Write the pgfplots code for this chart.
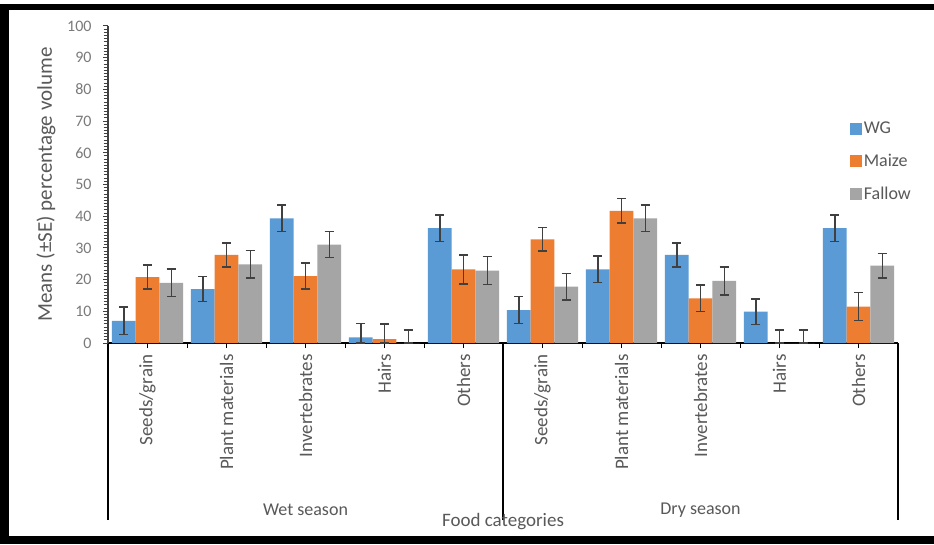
\documentclass[border=0pt]{standalone}
\usepackage{fontspec}
\setmainfont{Carlito}
\usepackage{pgfplots}
\usepackage{pgfplotstable}
\pgfplotsset{compat=1.18}
\definecolor{cwg}{HTML}{5B9BD5}
\definecolor{cmz}{HTML}{ED7D31}
\definecolor{cfa}{HTML}{A5A5A5}
\definecolor{errc}{HTML}{404040}
\definecolor{tc}{HTML}{595959}
\definecolor{tk}{HTML}{7A7A7A}

\pgfplotstableread{
x    y     ep   em
0.5  7.0   4.3  4.3
1.5  17.0  4.0  4.0
2.5  39.3  4.2  4.2
3.5  1.8   4.3  1.8
4.5  36.2  4.2  4.2
5.5  10.4  4.2  4.2
6.5  23.2  4.2  4.2
7.5  27.8  3.8  3.8
8.5  9.9   4.0  4.0
9.5  36.2  4.2  4.2
}\wgdata
\pgfplotstableread{
x    y     ep   em
0.5  20.8  3.8  3.8
1.5  27.8  3.8  3.8
2.5  21.1  4.1  4.1
3.5  1.2   4.8  1.2
4.5  23.2  4.6  4.6
5.5  32.7  3.7  3.7
6.5  41.7  3.9  3.9
7.5  14.1  4.2  4.2
8.5  0     4.1  0
9.5  11.5  4.4  4.4
}\mzdata
\pgfplotstableread{
x    y     ep   em
0.5  19.0  4.3  4.3
1.5  24.8  4.3  4.3
2.5  31.0  4.1  4.1
3.5  0     4.1  0
4.5  22.8  4.4  4.4
5.5  17.8  4.2  4.2
6.5  39.3  4.2  4.2
7.5  19.6  4.4  4.4
8.5  0     4.1  0
9.5  24.4  3.9  3.9
}\fadata

\begin{document}
\begin{tikzpicture}
\path[use as bounding box] (0pt,0pt) rectangle (934pt,544pt);
\fill[white] (0pt,0pt) rectangle (934pt,544pt);
\fill[black] (0pt,534pt) rectangle (934pt,540pt);
\fill[black] (0pt,0pt) rectangle (9pt,540pt);
\fill[black] (0pt,0pt) rectangle (934pt,8pt);
\begin{axis}[
  at={(108pt,201pt)}, anchor=south west,
  scale only axis, width=790pt, height=317pt,
  xmin=0, xmax=10, ymin=0, ymax=100,
  clip=false,
  axis x line*=bottom, axis y line*=left,
  x axis line style={black, line width=1.3pt},
  y axis line style={errc, line width=1.3pt},
  ybar, bar width=0.3,
  ytick={0,10,...,100},
  xtick={0.5,1.5,...,9.5},
  xticklabels={Seeds/grain,Plant materials,Invertebrates,Hairs,Others,Seeds/grain,Plant materials,Invertebrates,Hairs,Others},
  minor xtick={1,2,3,4,6,7,8,9},
  tick align=outside,
  xtick pos=bottom, ytick pos=left,
  major tick length=5pt, minor tick length=4.5pt,
  tick style={draw=black, line width=1pt},
  ytick style={draw=errc, line width=1pt},
  extra x ticks={0,5,10},
  extra x tick labels={},
  extra x tick style={major tick length=177pt, tick style={draw=black, line width=1.3pt}},
  extra y ticks={0,1,...,100},
  extra y tick labels={},
  extra y tick style={major tick length=4.5pt, tick align=outside, tick style={draw=errc, line width=0.9pt}},
  /pgf/number format/assume math mode=true,
  yticklabel style={font=\fontsize{16}{18}\selectfont, text=tk, xshift=-8pt},
  xticklabel style={font=\fontsize{19}{21}\selectfont, text=tc, rotate=90, anchor=east, xshift=-3pt},
  ylabel={Means (±SE) percentage volume},
  ylabel style={at={([xshift=-62pt]axis description cs:0,0.5)}, anchor=center, font=\fontsize{21}{23}\selectfont, text=tc},
  xlabel={Food categories},
  xlabel style={at={([yshift=-179pt]axis description cs:0.5,0)}, anchor=center, font=\fontsize{19}{21}\selectfont, text=tc},
  legend style={at={(0.935,0.71)}, anchor=north west, draw=none, fill=none,
    font=\fontsize{18}{20}\selectfont, text=tc, row sep=15pt, nodes={inner sep=2pt}},
  legend cell align=left,
  legend image code/.code={\fill[#1] (0pt,-6pt) rectangle (12pt,6pt);},
  error bars/y dir=both, error bars/y explicit,
  error bars/error bar style={draw=errc, line width=1.4pt},
  error bars/error mark options={rotate=90, draw=errc, line width=1.4pt, mark size=4.5pt},
]
\addplot[fill=cwg, draw=none, bar shift=-0.3] table[x=x, y=y, y error plus=ep, y error minus=em] {\wgdata};
\addplot[fill=cmz, draw=none, bar shift=0] table[x=x, y=y, y error plus=ep, y error minus=em] {\mzdata};
\addplot[fill=cfa, draw=none, bar shift=0.3] table[x=x, y=y, y error plus=ep, y error minus=em] {\fadata};
\legend{WG, Maize, Fallow}
\node[font=\fontsize{18}{20}\selectfont, text=tc] at (axis cs:2.5,-52.7) {Wet season};
\node[font=\fontsize{18}{20}\selectfont, text=tc] at (axis cs:7.5,-52.7) {Dry season};
\end{axis}
\end{tikzpicture}
\end{document}
